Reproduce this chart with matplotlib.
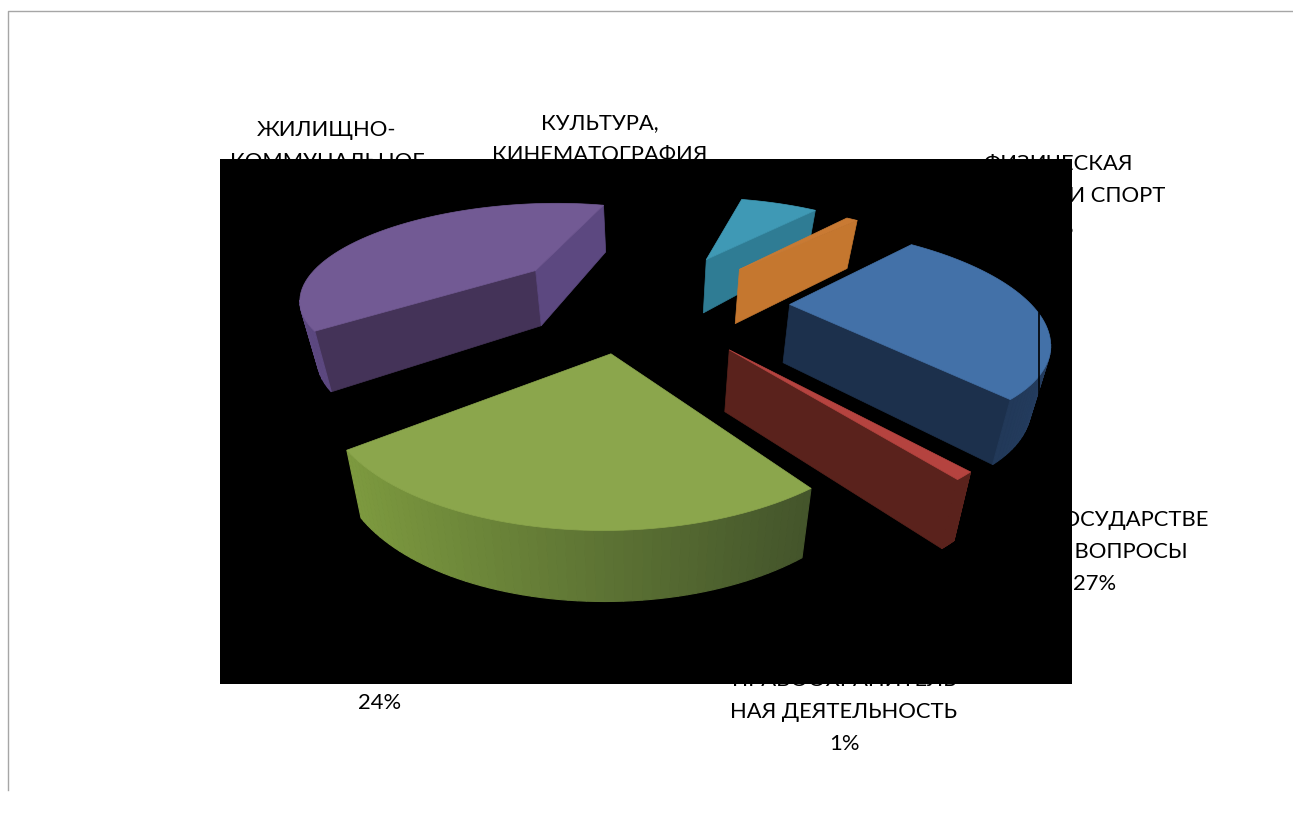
import numpy as np
import matplotlib
matplotlib.use('Agg')
import matplotlib.pyplot as plt
from matplotlib.patches import Rectangle

plt.rcParams['font.family'] = ['Lato', 'DejaVu Sans']

# 1. Data
shares = [27, 1, 24, 40, 7, 1]
labels = [
    'ОБЩЕГОСУДАРСТВЕ\nННЫЕ ВОПРОСЫ\n27%',
    'ПРАВООХРАНИТЕЛЬ\nНАЯ ДЕЯТЕЛЬНОСТЬ\n1%',
    'НАЦИОНАЛЬНАЯ\nЭКОНОМИКА\n24%',
    'ЖИЛИЩНО-\nКОММУНАЛЬНОЕ\nХОЗЯЙСТВО\n40%',
    'КУЛЬТУРА,\nКИНЕМАТОГРАФИЯ\n7%',
    'ФИЗИЧЕСКАЯ\nКУЛЬТУРА И СПОРТ\n1%',
]

# 2. Styles, one entry per slice
label_pos = [(1095, 520), (844, 680), (380, 639), (327, 130), (600, 123), (1058, 164)]
explode = [0.55, 0.55, 0.50, 0.60, 0.60, 0.58]
nudge_x = [5, -12, -22, -5, -5, 3]
nudge_y = [0, 0, -3, -2, 3, 5]
top_colors = ['#4371A8', '#B5433F', '#8BA64C', '#725A94', '#3F99B5', '#C97A33']
cut_start = ['#1C304C', '#5A221C', '#55692E', '#443358', '#2F7C94', '#C5772F']
cut_end = ['#1C304C', '#5A221C', '#55692E', '#5C4880', '#2F7C94', '#C5772F']
wall_left = ['#1C304C', '#5A221C', '#7D9A3F', '#5C4880', '#2F7C94', '#C5772F']
wall_right = ['#243C5E', '#5A221C', '#44552B', '#5C4880', '#2F7C94', '#C5772F']

first_angle = 44.0
cx, cy = 652.0, 302.0
radius, squash, persp = 240.0, 0.404, 0.25
depth, depth_tilt, depth_shrink = 58.0, 0.15, 0.05


def project(x, y, z=0.0):
    # pie plane to picture pixels, z is 0 on the top face and 1 on the bottom
    w = 1 + persp * y
    u = cx + radius * x / w
    v = cy - radius * squash * y / w
    u = cx + (u - cx) * (1 - depth_shrink * z)
    v = v + z * depth * (1 - depth_tilt * y)
    return u, v


def mix(c1, c2, t):
    a = np.array(matplotlib.colors.to_rgb(c1))
    b = np.array(matplotlib.colors.to_rgb(c2))
    return a + (b - a) * t


fig = plt.figure(figsize=(12.93, 8.14), dpi=100)
ax = fig.add_axes([0, 0, 1, 1])
ax.set_xlim(0, 1293)
ax.set_ylim(814, 0)
ax.axis('off')

# page border
ax.plot([8, 8, 1293], [790, 11, 11], color='#A6A6A6', linewidth=1, zorder=1)

# 3. Labels sit under the black box, as in the original
for text, (lx, ly) in zip(labels, label_pos):
    for i, line in enumerate(text.split('\n')):
        ax.text(lx, ly + i * 32, line, ha='center', va='center', fontsize=15.8, color='black', zorder=2)

ax.add_patch(Rectangle((220, 159), 852, 525, facecolor='black', edgecolor='none', zorder=3))

# 4. Slices, far ones first. Only faces turned to the viewer are drawn
order = np.cumsum([0] + shares)
starts = first_angle + np.array(order[:-1]) * 3.6
ends = first_angle + np.array(order[1:]) * 3.6
mids = (starts + ends) / 2
draw_order = np.argsort(-(np.cos(np.radians(mids))))

z = 4
for i in draw_order:
    t = np.radians(np.linspace(starts[i], ends[i], 60))
    ex = explode[i] * np.sin(np.radians(mids[i]))
    ey = explode[i] * np.cos(np.radians(mids[i]))
    xs = ex + np.sin(t)
    ys = ey + np.cos(t)

    top_u, top_v = project(xs, ys)
    bot_u, bot_v = project(xs, ys, 1.0)
    a_top = project(ex, ey)
    a_bot = project(ex, ey, 1.0)
    top_u, bot_u = top_u + nudge_x[i], bot_u + nudge_x[i]
    top_v, bot_v = top_v + nudge_y[i], bot_v + nudge_y[i]
    a_top = (a_top[0] + nudge_x[i], a_top[1] + nudge_y[i])
    a_bot = (a_bot[0] + nudge_x[i], a_bot[1] + nudge_y[i])

    if top_u[0] < a_top[0]:
        ax.fill([a_top[0], top_u[0], bot_u[0], a_bot[0]], [a_top[1], top_v[0], bot_v[0], a_bot[1]],
                color=cut_start[i], linewidth=0.5, zorder=z)
    if a_top[0] < top_u[-1]:
        ax.fill([a_top[0], top_u[-1], bot_u[-1], a_bot[0]], [a_top[1], top_v[-1], bot_v[-1], a_bot[1]],
                color=cut_end[i], linewidth=0.5, zorder=z)
    z += 1

    # outer wall in short strips, colour runs left to right
    shade = (top_u - top_u.min()) / max(top_u.max() - top_u.min(), 1)
    for k in range(len(t) - 1):
        if top_u[k + 1] < top_u[k]:
            ax.fill([top_u[k], top_u[k + 1], bot_u[k + 1], bot_u[k]],
                    [top_v[k], top_v[k + 1], bot_v[k + 1], bot_v[k]],
                    color=mix(wall_left[i], wall_right[i], shade[k]), linewidth=0.8, zorder=z)
    z += 1

    ax.fill(np.r_[a_top[0], top_u], np.r_[a_top[1], top_v], color=top_colors[i], linewidth=0.5, zorder=z)
    z += 1

# thin black line across the blue slice
ax.plot([1039, 1039], [313, 403], color='black', linewidth=1.2, zorder=z)

fig.savefig('out.png', dpi=100)
